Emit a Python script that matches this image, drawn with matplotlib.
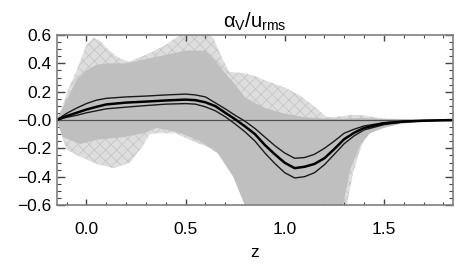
import numpy as np
import matplotlib
matplotlib.use("Agg")
import matplotlib.pyplot as plt
from matplotlib.ticker import MultipleLocator, FixedLocator, FixedFormatter

plt.rcParams['font.family'] = ['Liberation Sans', 'DejaVu Sans']
plt.rcParams['mathtext.fontset'] = 'custom'
plt.rcParams['mathtext.rm'] = 'Liberation Sans'
plt.rcParams['mathtext.it'] = 'Liberation Sans'
plt.rcParams['hatch.linewidth'] = 0.6

# ---- data ----
z = [-0.15, -0.1, -0.05, 0.0, 0.05, 0.1, 0.2, 0.3, 0.4, 0.5, 0.55, 0.6, 0.65, 0.7,
     0.75, 0.8, 0.85, 0.9, 0.95, 1.0, 1.05, 1.1, 1.15, 1.2, 1.25, 1.3, 1.35, 1.4,
     1.5, 1.6, 1.7, 1.85]
mean_curve = [0, 0.028, 0.051, 0.074, 0.093, 0.11, 0.123, 0.13, 0.138, 0.144, 0.14, 0.125,
              0.098, 0.051, 0.005, -0.045, -0.10, -0.177, -0.242, -0.302, -0.34, -0.33,
              -0.31, -0.27, -0.205, -0.135, -0.09, -0.056, -0.023, -0.011, -0.005, 0.0]
upper_curve = [0, 0.047, 0.084, 0.116, 0.14, 0.153, 0.163, 0.169, 0.177, 0.183, 0.177, 0.163,
               0.121, 0.079, 0.033, -0.009, -0.06, -0.121, -0.181, -0.233, -0.27, -0.265,
               -0.242, -0.2, -0.149, -0.093, -0.065, -0.042, -0.019, -0.009, -0.004, 0.0]
lower_curve = [0, 0.019, 0.033, 0.051, 0.065, 0.079, 0.091, 0.102, 0.112, 0.116, 0.112, 0.093,
               0.065, 0.023, -0.028, -0.084, -0.149, -0.233, -0.307, -0.372, -0.409, -0.4,
               -0.372, -0.316, -0.242, -0.167, -0.112, -0.07, -0.033, -0.014, -0.006, 0.0]

# outer (sparse) envelope of the ensemble
outer_top_z = [-0.15, -0.12, -0.1, -0.05, 0.0, 0.035, 0.07, 0.1, 0.15, 0.21, 0.3, 0.4, 0.47,
               0.5, 0.6, 0.64, 0.68, 0.72, 0.8, 0.85, 0.9, 1.0, 1.08, 1.16, 1.21, 1.25, 1.3,
               1.35, 1.4, 1.45, 1.5, 1.6, 1.85]
outer_top = [0, 0.1, 0.19, 0.35, 0.53, 0.58, 0.56, 0.51, 0.45, 0.41, 0.46, 0.53, 0.6, 0.63,
             0.63, 0.58, 0.45, 0.34, 0.33, 0.31, 0.28, 0.23, 0.17, 0.085, 0.02, 0.02, 0.03,
             0.037, 0.033, 0.02, 0.011, 0.006, 0.002]
outer_bot_z = [-0.15, -0.1, -0.03, 0.05, 0.14, 0.22, 0.29, 0.32, 0.35, 0.45, 0.52, 0.62, 0.69,
               0.76, 0.81, 0.84, 1.3, 1.345, 1.38, 1.42, 1.5, 1.58, 1.7, 1.85]
outer_bot = [0, -0.21, -0.26, -0.31, -0.34, -0.3, -0.17, -0.10, -0.093, -0.093, -0.14, -0.195,
             -0.26, -0.40, -0.54, -0.7, -0.7, -0.37, -0.21, -0.07, -0.037, -0.023, -0.014, -0.009]

# dense core of the ensemble
dense_top_z = [-0.15, -0.1, -0.05, 0.0, 0.05, 0.1, 0.2, 0.3, 0.4, 0.5, 0.6, 0.65, 0.7, 0.75,
               0.8, 0.85, 0.9, 1.0, 1.1, 1.2, 1.3, 1.4, 1.5, 1.85]
dense_top = [0, 0.14, 0.28, 0.35, 0.39, 0.4, 0.4, 0.43, 0.46, 0.49, 0.49, 0.42, 0.33, 0.25,
             0.16, 0.12, 0.085, 0.045, 0.02, 0.01, 0.01, 0.014, 0.007, 0.002]
dense_bot_z = [-0.15, -0.12, -0.03, 0.05, 0.19, 0.29, 0.355, 0.455, 0.56, 0.66, 0.74, 0.795,
               0.81, 1.28, 1.33, 1.38, 1.43, 1.5, 1.58, 1.7, 1.85]
dense_bot = [0, -0.12, -0.17, -0.14, -0.12, -0.093, -0.056, -0.084, -0.14, -0.23, -0.40, -0.59,
             -0.7, -0.7, -0.35, -0.18, -0.093, -0.056, -0.028, -0.009, -0.005]

yticks = [-0.6, -0.4, -0.2, 0.0, 0.2, 0.4, 0.6]
ytick_labels = ['\u22120.6', '\u22120.4', '\u22120.2', '\u22120.0', '0.2', '0.4', '0.6']
xticks = [0.0, 0.5, 1.0, 1.5]
xtick_labels = ['0.0', '0.5', '1.0', '1.5']

# ---- figure ----
fig = plt.figure(figsize=(4.63, 2.78), dpi=100)
ax = fig.add_axes([0.1225, 0.2626, 0.8565, 0.6114])

def poly(xa, ya, xb, yb):
    px = np.concatenate([np.asarray(xa), np.asarray(xb)[::-1]])
    py = np.concatenate([np.asarray(ya), np.asarray(yb)[::-1]])
    return px, py

ox, oy = poly(outer_top_z, outer_top, outer_bot_z, outer_bot)
ax.fill(ox, oy, facecolor='#dedede', edgecolor='#c6c6c6', hatch='xxx', linewidth=0, zorder=1)
dx, dy = poly(dense_top_z, dense_top, dense_bot_z, dense_bot)
ax.fill(dx, dy, facecolor='#bfbfbf', edgecolor='none', linewidth=0, zorder=2)

ax.axhline(0.0, color='#505050', lw=0.9, zorder=3)
ax.plot(z, upper_curve, color='#1a1a1a', lw=1.0, zorder=4)
ax.plot(z, lower_curve, color='#1a1a1a', lw=1.0, zorder=4)
ax.plot(z, mean_curve, color='black', lw=1.8, zorder=5)

ax.set_xlim(-0.15, 1.85)
ax.set_ylim(-0.6, 0.6)

ax.xaxis.set_major_locator(FixedLocator(xticks))
ax.xaxis.set_major_formatter(FixedFormatter(xtick_labels))
ax.xaxis.set_minor_locator(MultipleLocator(0.1))
ax.yaxis.set_major_locator(FixedLocator(yticks))
ax.yaxis.set_major_formatter(FixedFormatter(ytick_labels))
ax.yaxis.set_minor_locator(MultipleLocator(0.05))

ax.tick_params(axis='both', which='both', direction='in', top=True, right=True,
               color='#444444', labelsize=12.5, labelcolor='black')
ax.tick_params(axis='x', which='major', length=4, width=1.0, pad=12)
ax.tick_params(axis='x', which='minor', length=2.5, width=0.8)
ax.tick_params(axis='y', which='major', length=6, width=1.0, pad=4)
ax.tick_params(axis='y', which='minor', length=3, width=0.8)

for s in ax.spines.values():
    s.set_color('#808080')
    s.set_linewidth(1.2)
    s.set_zorder(6)

ax.set_xlabel('z', fontsize=12.5, labelpad=6)
ax.set_title(r'$\alpha_{\rm V}/\mathrm{u}_{\rm rms}$', fontsize=14.5, pad=5)

fig.savefig('out.png', dpi=100)
